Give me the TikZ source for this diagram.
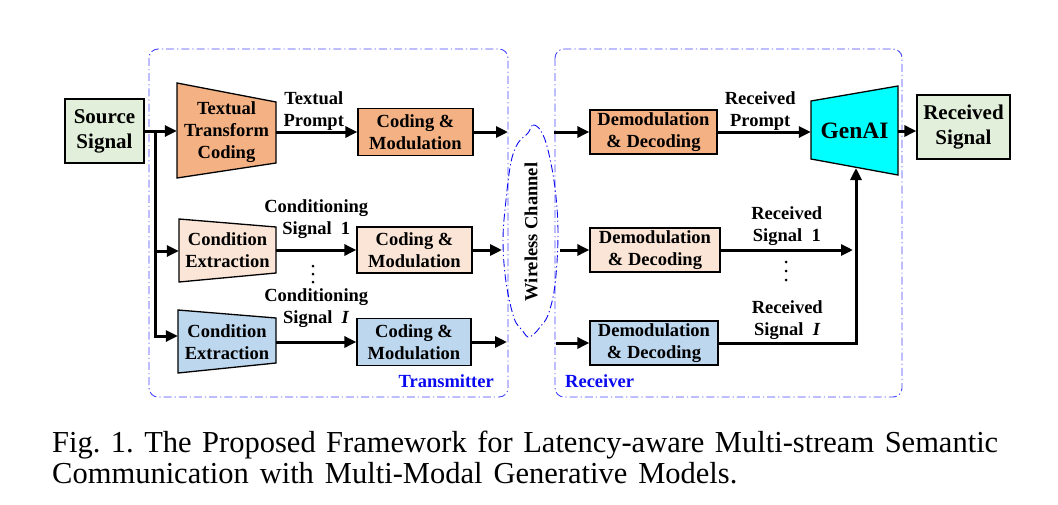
\documentclass[tikz,border=0pt]{standalone}
\usepackage{fontspec}
\setmainfont{Liberation Serif}
\usetikzlibrary{arrows.meta, calc}
\definecolor{trorange}{RGB}{244,177,131}
\definecolor{trpeach}{RGB}{251,229,214}
\definecolor{trblue}{RGB}{189,215,238}
\definecolor{srcgreen}{RGB}{226,239,218}
\definecolor{gencyan}{RGB}{0,255,255}
\definecolor{frameblue}{RGB}{70,70,255}
\definecolor{txtblue}{RGB}{10,10,240}
\newcommand{\blkfont}{\bfseries\fontsize{18.5}{22}\selectfont}
\newcommand{\bigblkfont}{\bfseries\fontsize{21}{25}\selectfont}

\begin{document}
\begin{tikzpicture}[x=1pt,y=-1pt,
  blk/.style={draw, line width=1.3pt, align=center, inner sep=0pt, font=\blkfont},
  txt/.style={align=center, inner sep=0pt, font=\blkfont},
  trap/.style={draw, line width=1.3pt},
  arr/.style={line width=3pt, -{Triangle[length=12pt,width=11pt]}},
  frame/.style={draw=frameblue, line width=0.9pt, rounded corners=9pt, dash pattern=on 8pt off 3pt on 1.2pt off 3pt},
]
  \useasboundingbox (0,0) rectangle (1058,504);

  % transmitter / receiver frames
  \draw[frame] (149,49) rectangle (508,397);
  \draw[frame] (555,49) rectangle (902,397);
  \node[txt, text=txtblue, anchor=base east] (txlabel) at (494,387) {Transmitter};
  \node[txt, text=txtblue, anchor=base west] (rxlabel) at (565,387) {Receiver};

  % source
  \node[blk, fill=srcgreen, minimum width=79pt, minimum height=64pt, font=\bigblkfont] (src) at (104.5,131) {Source\\Signal};

  % transform / extraction trapezoids
  \filldraw[trap, fill=trorange] (177,83) -- (276,102) -- (276,163) -- (177,178) -- cycle;
  \node[txt, minimum width=99pt] (ttc) at (226.5,132) {Textual\\Transform\\Coding};
  \filldraw[trap, fill=trpeach] (179,219) -- (276,227) -- (276,273) -- (179,282) -- cycle;
  \node[txt, minimum width=97pt] (ce1) at (227.5,250) {Condition\\Extraction};
  \filldraw[trap, fill=trblue] (178,310) -- (276,318) -- (276,363) -- (178,373) -- cycle;
  \node[txt, minimum width=98pt] (ce2) at (227,342) {Condition\\Extraction};

  % coding & modulation
  \node[blk, fill=trorange, minimum width=115pt, minimum height=47pt] (cm1) at (415.5,132) {Coding \&\\Modulation};
  \node[blk, fill=trpeach, minimum width=115pt, minimum height=46pt] (cm2) at (414.5,250) {Coding \&\\Modulation};
  \node[blk, fill=trblue, minimum width=114pt, minimum height=47pt] (cm3) at (414,342) {Coding \&\\Modulation};

  % wireless channel
  \draw[frame, draw=txtblue, sharp corners] plot[smooth cycle, tension=0.6] coordinates {
    (528,133) (533,125) (541,131) (548,150) (555,188) (558,233) (555,285) (548,315)
    (540,327) (534,334) (528,337) (522,330) (514,318) (506,282) (503,240) (506,200)
    (511,162) (518,143)};
  \node[txt, rotate=90] (ch) at (531,232) {Wireless Channel};

  % demodulation & decoding
  \node[blk, fill=trorange, minimum width=127pt, minimum height=44pt] (dd1) at (653.5,132) {Demodulation\\\& Decoding};
  \node[blk, fill=trpeach, minimum width=130pt, minimum height=44pt] (dd2) at (655,250) {Demodulation\\\& Decoding};
  \node[blk, fill=trblue, minimum width=128pt, minimum height=44pt] (dd3) at (654,343) {Demodulation\\\& Decoding};

  % generative model and output
  \filldraw[trap, fill=gencyan] (811,101) -- (898,86) -- (898,175) -- (811,159) -- cycle;
  \node[txt, minimum width=87pt, font=\bfseries\fontsize{23.5}{28}\selectfont] (gen) at (854.5,131) {GenAI};
  \node[blk, fill=srcgreen, minimum width=93pt, minimum height=64pt, font=\bigblkfont] (rcv) at (963.5,127) {Received\\Signal};

  % free ends
  \coordinate (b1) at (155,131);
  \coordinate (b2) at (155,251);
  \coordinate (b3) at (155,336);
  \coordinate (t1) at (508,132);
  \coordinate (t2) at (502,250);
  \coordinate (t3) at (507,342);
  \coordinate (r1) at (554,132);
  \coordinate (r2) at (560,250);
  \coordinate (r3) at (556,343);
  \coordinate (s1) at (853,250);
  \coordinate (gin) at (856,168);

  % transmitter arrows
  \draw[arr] (src.east) -- (src.east -| ttc.west);
  \draw[arr] (b1) -- (b3) -- (b3 -| ce2.west);
  \draw[arr] (b2) -- (b2 -| ce1.west);
  \draw[arr] (ttc.east) -- (cm1.west) node[midway, above, txt, xshift=-3pt] {Textual\\Prompt};
  \draw[arr] (ce1.east) -- (cm2.west) node[midway, above, txt, yshift=10pt] {Conditioning\\Signal~~1};
  \draw[arr] (ce2.east) -- (cm3.west) node[midway, above, txt, yshift=13pt] {Conditioning\\Signal~~\textit{I}};
  \draw[arr] (cm1.east) -- (t1);
  \draw[arr] (cm2.east) -- (t2);
  \draw[arr] (cm3.east) -- (t3);
  \foreach \y in {266,274,282} \fill (313,\y) circle (1.5pt);

  % receiver arrows
  \draw[arr] (r1) -- (dd1.west);
  \draw[arr] (r2) -- (dd2.west);
  \draw[arr] (r3) -- (dd3.west);
  \draw[arr] (dd1.east) -- (dd1.east -| gen.west) node[midway, above, txt, xshift=-4pt] {Received\\Prompt};
  \draw[arr] (dd2.east) -- (s1) node[midway, above, txt, yshift=3pt] {Received\\Signal~~1};
  \draw[arr] (dd3.east) -| (gin) node[pos=0.25, above, txt, yshift=2pt] {Received\\Signal~~\textit{I}};
  \draw[arr] (gen.east) -- (gen.east -| rcv.west);
  \foreach \y in {262,271,280} \fill (786,\y) circle (1.5pt);

  % caption
  \node[anchor=north west, inner sep=0pt, text width=946pt, align=justify, font=\fontsize{30.5}{31}\selectfont] (cap) at (52,431)
    {\frenchspacing\spaceskip=0.36em plus 0.15em minus 0.05em
     Fig. 1. The Proposed Framework for Latency-aware Multi-stream Semantic\linebreak
     Communication with Multi-Modal Generative Models.};
\end{tikzpicture}
\end{document}
